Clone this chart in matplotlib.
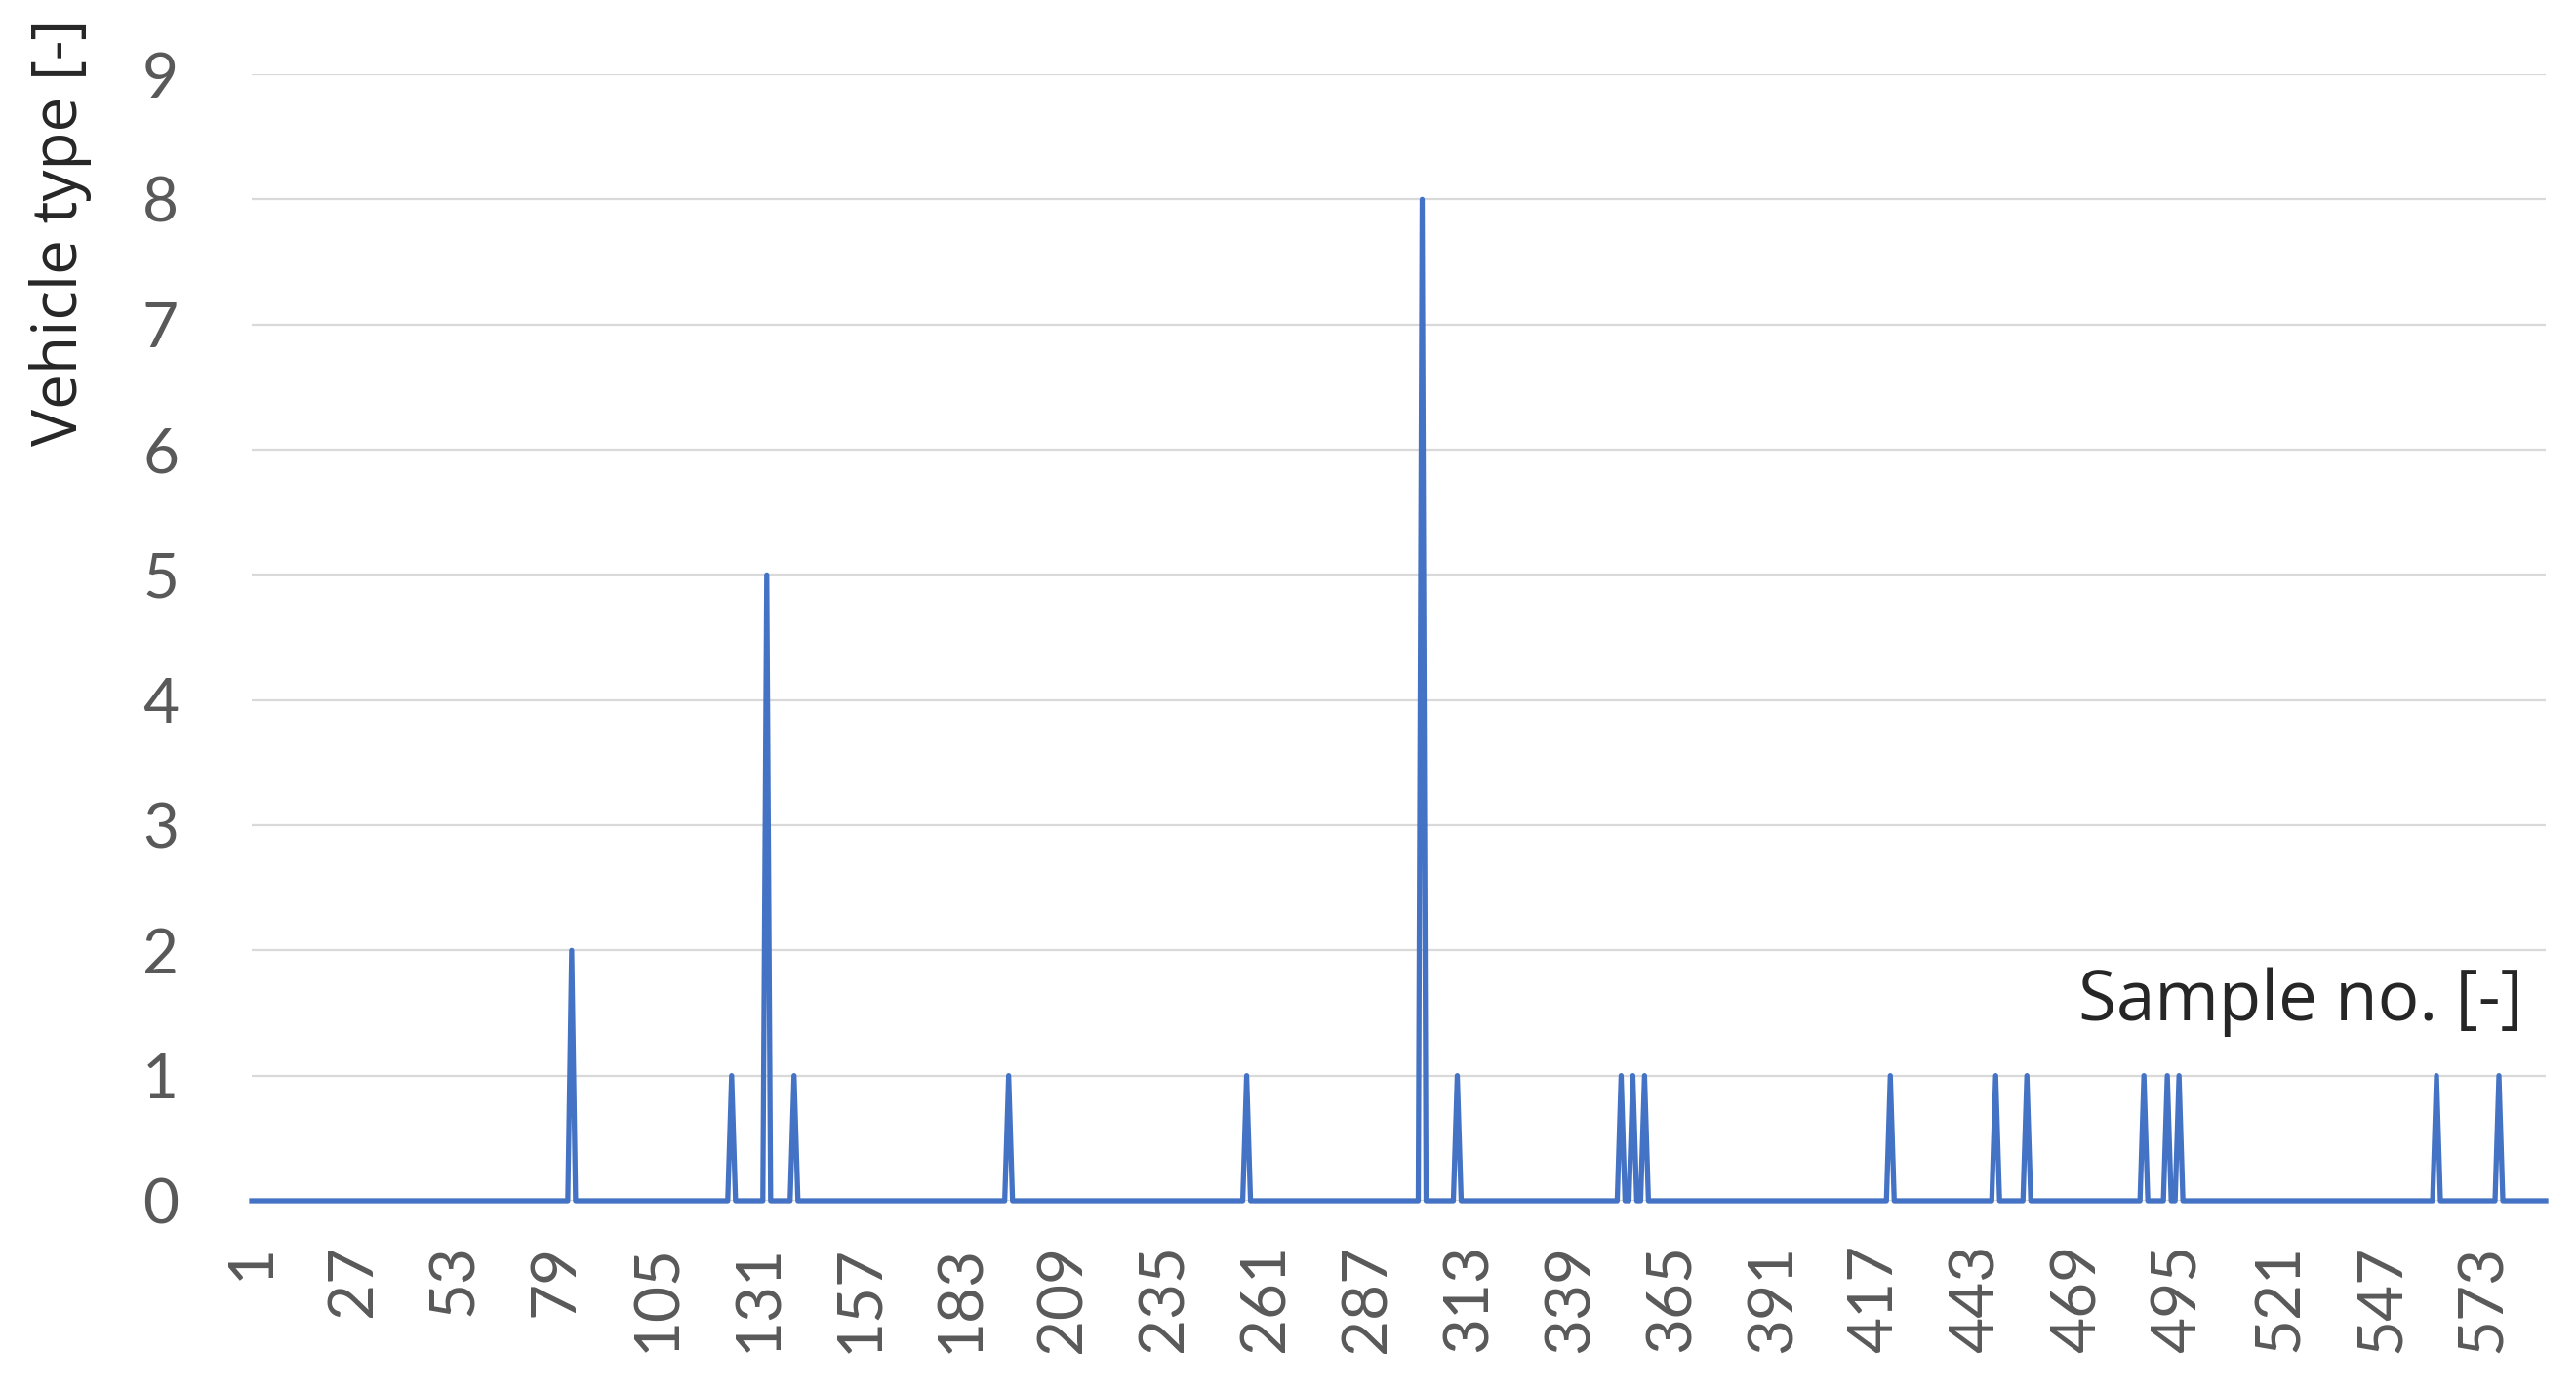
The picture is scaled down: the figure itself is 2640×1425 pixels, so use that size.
import numpy as np
import matplotlib
matplotlib.use("Agg")
import matplotlib.pyplot as plt

# ---- data ----
n_samples = 589
spike_samples = [83, 124, 133, 140, 195, 256, 301, 310, 352, 355, 358,
                 421, 448, 456, 486, 492, 495, 561, 577]
spike_types = [2, 1, 5, 1, 1, 1, 8, 1, 1, 1, 1,
               1, 1, 1, 1, 1, 1, 1, 1]
x_tick_labels = [1, 27, 53, 79, 105, 131, 157, 183, 209, 235, 261, 287,
                 313, 339, 365, 391, 417, 443, 469, 495, 521, 547, 573]
y_ticks = [0, 1, 2, 3, 4, 5, 6, 7, 8, 9]

samples = np.arange(1, n_samples + 1)
vehicle_type = np.zeros(n_samples)
for s, v in zip(spike_samples, spike_types):
    vehicle_type[s - 1] = v

plt.rcParams['font.family'] = ['Lato', 'DejaVu Sans']

W, H = 2640, 1425
fig = plt.figure(figsize=(W / 100, H / 100), dpi=100)
left, right = 258 / W, 2609 / W
bottom, top = 1 - 1231 / H, 1 - 76 / H
ax = fig.add_axes([left, bottom, right - left, top - bottom])

ax.set_xlim(1, n_samples)
ax.set_ylim(0, 9)
ax.set_yticks(y_ticks)
ax.set_yticklabels([str(v) for v in y_ticks])
ax.set_xticks(x_tick_labels)
ax.set_xticklabels([str(v) for v in x_tick_labels], rotation=90, va='top', ha='center')

ax.grid(axis='y', color='#D9D9D9', linewidth=1.6, zorder=0)
ax.grid(axis='x', visible=False)
for sp in ax.spines.values():
    sp.set_visible(False)
ax.tick_params(axis='both', length=0, labelsize=46, colors='#595959')
ax.tick_params(axis='y', pad=54)
ax.tick_params(axis='x', pad=32)

ax.plot(samples, vehicle_type, color='#4472C4', linewidth=3.8,
        solid_joinstyle='round', zorder=3, clip_on=False)

fig.text(62 / W, 1 - 20 / H, 'Vehicle type [-]', rotation=90, ha='center', va='top',
         fontsize=46, color='#262626', family=['Open Sans', 'DejaVu Sans'])
fig.text(2586 / W, 1 - 1027 / H, 'Sample no. [-]', ha='right', va='center',
         fontsize=51, color='#262626', family=['Open Sans', 'DejaVu Sans'])

fig.savefig('out.png', dpi=100, facecolor='white')
